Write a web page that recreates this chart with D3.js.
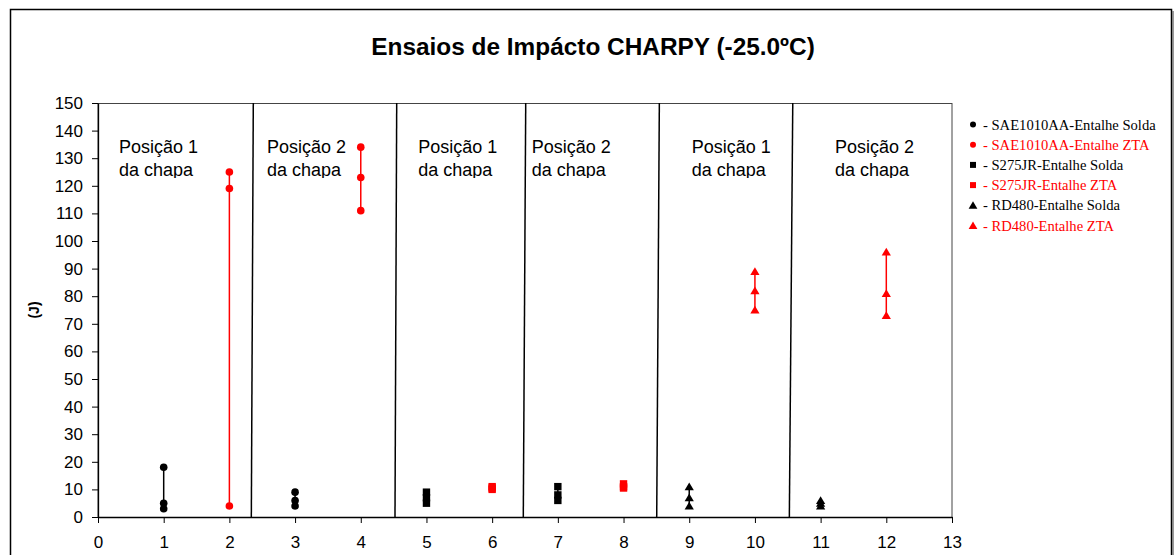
<!DOCTYPE html>
<html>
<head>
<meta charset="utf-8">
<script src="https://cdn.jsdelivr.net/npm/d3@7"></script>
<style>
  html, body { margin: 0; padding: 0; background: #fff; }
  svg { display: block; }
</style>
</head>
<body>
<svg id="chart" width="1174" height="555"></svg>
<script>
// Charpy impact energy (J) at -25.0 ºC, three specimens per test position
const testPositions = [1, 2, 3, 4, 5, 6, 7, 8, 9, 10, 11, 12];
const energyJ = [
  [18, 5, 3],
  [125, 119, 4],
  [9, 6, 4],
  [134, 123, 111],
  [9, 7, 5],
  [11, 10.5, 10],
  [11, 8, 6],
  [12, 11, 10.5],
  [11, 7, 4],
  [89, 82, 75],
  [6, 5, 4],
  [96, 81, 73]
];
// which series each test position belongs to
const positionSeries = [0, 1, 0, 1, 2, 3, 2, 3, 4, 5, 4, 5];

const seriesNames = [
  "SAE1010AA-Entalhe Solda",
  "SAE1010AA-Entalhe ZTA",
  "S275JR-Entalhe Solda",
  "S275JR-Entalhe ZTA",
  "RD480-Entalhe Solda",
  "RD480-Entalhe ZTA"
];
const seriesColors = ["#000000", "#ff0000", "#000000", "#ff0000", "#000000", "#ff0000"];
const seriesShapes = ["circle", "circle", "square", "square", "triangle", "triangle"];

const xTicks = d3.range(0, 14);
const yTicks = d3.range(0, 151, 10);

// plate-position dividers (x at top and bottom of the plot)
const dividerTop = [2.364, 4.547, 6.511, 8.545, 10.576];
const dividerBottom = [2.334, 4.521, 6.474, 8.505, 10.524];

// text boxes naming the plate position
const boxLabels = ["Posição 1", "Posição 2", "Posição 1", "Posição 2", "Posição 1", "Posição 2"];
const boxSubLabel = "da chapa";
const boxX = [0.32, 2.573, 4.876, 6.602, 9.038, 11.22];

const titleText = "Ensaios de Impácto CHARPY (-25.0ºC)";
const yAxisTitle = "(J)";

const svg = d3.select("#chart");
const plot = { left: 98, right: 952, top: 103, bottom: 517 };

const x = d3.scaleLinear().domain([0, 13]).range([plot.left, plot.right]);
const y = d3.scaleLinear().domain([0, 150]).range([plot.bottom, plot.top]);

// outer chart frame
svg.append("rect")
  .attr("x", 10.5).attr("y", 9.5)
  .attr("width", 1161).attr("height", 570)
  .attr("fill", "none").attr("stroke", "#000").attr("stroke-width", 1.5);
svg.append("line")
  .attr("x1", 1173).attr("x2", 1173).attr("y1", 11).attr("y2", 555)
  .attr("stroke", "#777").attr("stroke-width", 1.5);

// title
svg.append("text")
  .attr("x", 593).attr("y", 55)
  .attr("text-anchor", "middle")
  .attr("font-family", "Liberation Sans, Arial, sans-serif")
  .attr("font-weight", "bold")
  .attr("font-size", 24.4)
  .text(titleText);

// plot area border
svg.append("rect")
  .attr("x", plot.left).attr("y", plot.top + 0.5)
  .attr("width", plot.right - plot.left).attr("height", plot.bottom - plot.top)
  .attr("fill", "none").attr("stroke", "#444").attr("stroke-width", 1);

// axes
const fontAxis = "Liberation Sans, Arial, sans-serif";
const yAxis = svg.append("g")
  .attr("transform", `translate(${plot.left},0)`)
  .call(d3.axisLeft(y).tickValues(yTicks).tickSize(6).tickSizeOuter(0).tickPadding(9));
const xAxis = svg.append("g")
  .attr("transform", `translate(0,${plot.bottom})`)
  .call(d3.axisBottom(x).tickValues(xTicks).tickSize(6).tickSizeOuter(0).tickPadding(13));
[xAxis, yAxis].forEach(g => {
  g.selectAll("path.domain").attr("stroke", "#000").attr("stroke-width", 1.3);
  g.selectAll(".tick line").attr("stroke", "#000").attr("stroke-width", 1);
  g.selectAll(".tick text")
    .attr("font-family", fontAxis)
    .attr("font-size", 17)
    .attr("fill", "#000");
});

// y-axis title
svg.append("text")
  .attr("transform", "translate(39,310) rotate(-90)")
  .attr("text-anchor", "middle")
  .attr("font-family", fontAxis)
  .attr("font-weight", "bold")
  .attr("font-size", 14)
  .text(yAxisTitle);

// dividers
svg.append("g").selectAll("line")
  .data(dividerTop)
  .join("line")
  .attr("x1", (d) => x(d))
  .attr("y1", plot.top)
  .attr("x2", (d, i) => x(dividerBottom[i]))
  .attr("y2", plot.bottom)
  .attr("stroke", "#000")
  .attr("stroke-width", 1.5);

// position text boxes (clipped at the bottom like the original text frames)
svg.append("clipPath").attr("id", "boxClip")
  .append("rect")
  .attr("x", plot.left).attr("y", plot.top)
  .attr("width", plot.right - plot.left).attr("height", 75);
const boxes = svg.append("g").attr("clip-path", "url(#boxClip)")
  .attr("font-family", fontAxis).attr("font-size", 18).attr("fill", "#000");
boxes.selectAll("text.l1")
  .data(boxLabels)
  .join("text")
  .attr("class", "l1")
  .attr("x", (d, i) => x(boxX[i]))
  .attr("y", 153)
  .text((d) => d);
boxes.selectAll("text.l2")
  .data(boxLabels)
  .join("text")
  .attr("class", "l2")
  .attr("x", (d, i) => x(boxX[i]))
  .attr("y", 176)
  .text(boxSubLabel);

// marker shapes
function markerPath(shape, s) {
  if (shape === "circle") {
    return `M${-s},0A${s},${s} 0 1,0 ${s},0A${s},${s} 0 1,0 ${-s},0Z`;
  }
  if (shape === "square") {
    return `M${-s},${-s}H${s}V${s}H${-s}Z`;
  }
  const h = s * 1.0;
  return `M0,${-h}L${s * 1.1},${h * 0.85}L${-s * 1.1},${h * 0.85}Z`;
}

// high-low lines and markers
const groups = svg.append("g").selectAll("g")
  .data(testPositions)
  .join("g");
groups.append("line")
  .attr("x1", (d) => x(d))
  .attr("x2", (d) => x(d))
  .attr("y1", (d, i) => y(d3.max(energyJ[i])))
  .attr("y2", (d, i) => y(d3.min(energyJ[i])))
  .attr("stroke", (d, i) => seriesColors[positionSeries[i]])
  .attr("stroke-width", 1.5);
groups.each(function (d, i) {
  const s = positionSeries[i];
  const size = seriesShapes[s] === "circle" ? 3.8 : seriesShapes[s] === "square" ? 3.7 : 4.2;
  d3.select(this).selectAll("path")
    .data(energyJ[i])
    .join("path")
    .attr("transform", (v) => `translate(${x(d)},${y(v)})`)
    .attr("d", markerPath(seriesShapes[s], size))
    .attr("fill", seriesColors[s]);
});

// legend
const legend = svg.append("g");
const legendRows = legend.selectAll("g")
  .data(seriesNames)
  .join("g")
  .attr("transform", (d, i) => `translate(973,${124.5 + i * 20.2})`);
legendRows.append("path")
  .attr("d", (d, i) => markerPath(seriesShapes[i], seriesShapes[i] === "circle" ? 3 : seriesShapes[i] === "square" ? 3 : 4))
  .attr("fill", (d, i) => seriesColors[i]);
legendRows.append("text")
  .attr("x", 10)
  .attr("y", 5)
  .attr("font-family", "Liberation Serif, Times New Roman, serif")
  .attr("font-size", 14.6)
  .attr("fill", (d, i) => seriesColors[i])
  .text((d) => "- " + d);
</script>
</body>
</html>
